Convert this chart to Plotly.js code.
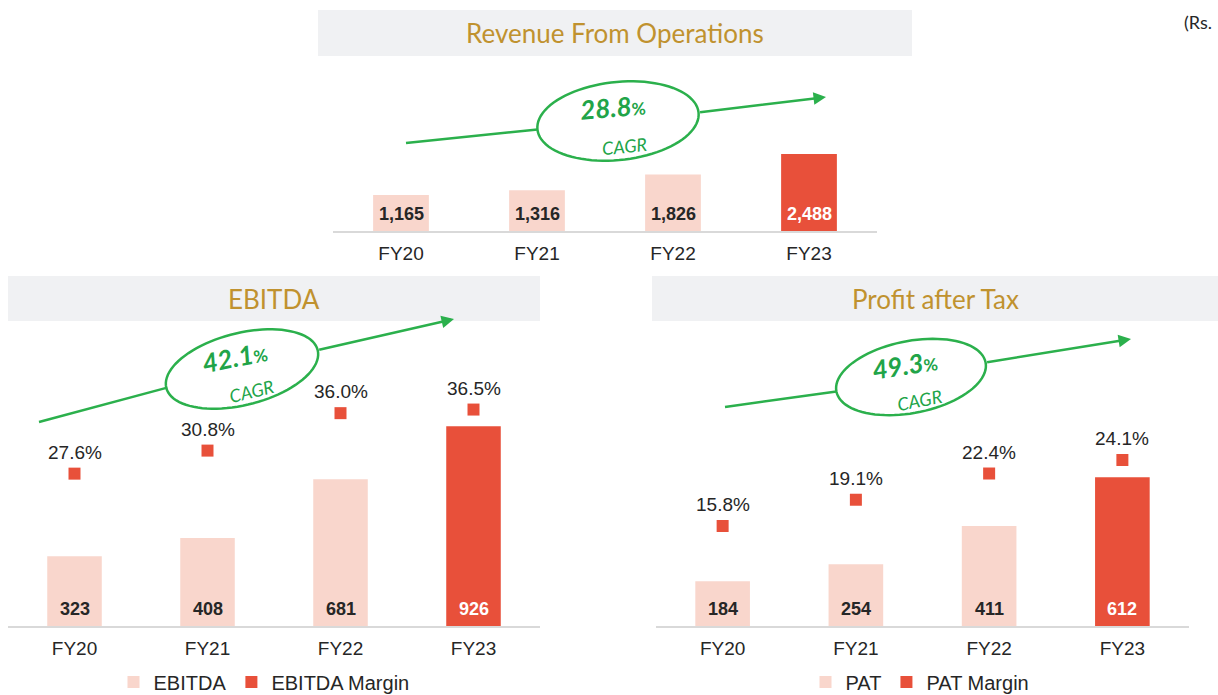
<!DOCTYPE html>
<html>
<head>
<meta charset="utf-8">
<script src="https://cdn.plot.ly/plotly-3.0.1.min.js"></script>
<style>
  html, body { margin: 0; padding: 0; background: #ffffff; }
  #chart { width: 1218px; height: 695px; }
</style>
</head>
<body>
<div id="chart"></div>
<script>
// ---------------- data ----------------
const categories   = ['FY20', 'FY21', 'FY22', 'FY23'];
const revenue      = [1165, 1316, 1826, 2488];
const ebitda       = [323, 408, 681, 926];
const ebitdaMargin = [27.6, 30.8, 36.0, 36.5];
const pat          = [184, 254, 411, 612];
const patMargin    = [15.8, 19.1, 22.4, 24.1];
const cagrRevenue  = '28.8';
const cagrEbitda   = '42.1';
const cagrPat      = '49.3';
const titles       = ['Revenue From Operations', 'EBITDA', 'Profit after Tax'];
const unitNote     = '(Rs.';

// ---------------- styling ----------------
const W = 1218, H = 695;
const X = px => px / W;
const Y = py => 1 - py / H;
const LIGHT = '#f9d6cc';
const RED = '#e8503a';
const GREEN = '#2bb04c';
const GREEN_TXT = '#21a448';
const GOLD = '#c0922f';
const GREYBOX = '#f0f1f3';
const DARK = '#262626';
const ARIAL = 'Liberation Sans, Arial, sans-serif';
const TITLEF = 'Lato, Open Sans, sans-serif';
const barColors = categories.map((c, i) => i === categories.length - 1 ? RED : LIGHT);
const barTextColors = categories.map((c, i) => i === categories.length - 1 ? '#ffffff' : DARK);

const traces = [
  { type: 'bar', x: categories, y: revenue, xaxis: 'x', yaxis: 'y',
    marker: { color: barColors }, showlegend: false, hoverinfo: 'skip' },
  { type: 'bar', x: categories, y: ebitda, xaxis: 'x2', yaxis: 'y2', name: 'EBITDA',
    legend: 'legend', marker: { color: barColors }, hoverinfo: 'skip' },
  { type: 'scatter', mode: 'markers', x: categories, y: ebitdaMargin, xaxis: 'x2', yaxis: 'y4',
    name: 'EBITDA Margin', legend: 'legend',
    marker: { symbol: 'square', size: 12, color: RED }, hoverinfo: 'skip' },
  { type: 'bar', x: categories, y: pat, xaxis: 'x3', yaxis: 'y3', name: 'PAT',
    legend: 'legend2', marker: { color: barColors }, hoverinfo: 'skip' },
  { type: 'scatter', mode: 'markers', x: categories, y: patMargin, xaxis: 'x3', yaxis: 'y5',
    name: 'PAT Margin', legend: 'legend2',
    marker: { symbol: 'square', size: 12, color: RED }, hoverinfo: 'skip' }
];

const xBase = (domain, anchor) => ({
  domain: domain, anchor: anchor, type: 'category', range: [-0.5, 3.5],
  showline: true, linecolor: '#d9d9d9', linewidth: 2, showgrid: false, zeroline: false,
  ticks: '', ticklabelstandoff: 4,
  tickfont: { family: ARIAL, size: 19, color: DARK }, fixedrange: true
});
const yHidden = (domain, anchor, range) => ({
  domain: domain, anchor: anchor, range: range, visible: false, fixedrange: true
});

const topDomY = [Y(231), Y(60)];
const botDomY = [Y(626), Y(330)];

const layout = {
  width: W, height: H,
  margin: { l: 0, r: 0, t: 0, b: 0, autoexpand: false },
  paper_bgcolor: '#ffffff', plot_bgcolor: 'rgba(0,0,0,0)',
  bargap: 0.59,
  font: { family: ARIAL, color: DARK },
  xaxis:  xBase([X(333), X(877)], 'y'),
  yaxis:  yHidden(topDomY, 'x', [0, 5525]),
  xaxis2: xBase([X(8), X(540)], 'y2'),
  yaxis2: yHidden(botDomY, 'x2', [0, 1373]),
  xaxis3: xBase([X(656), X(1189)], 'y3'),
  yaxis3: yHidden(botDomY, 'x3', [0, 1218]),
  yaxis4: { overlaying: 'y2', anchor: 'x2', range: [6.44, 47.55], visible: false, fixedrange: true },
  yaxis5: { overlaying: 'y3', anchor: 'x3', range: [3.22, 40.45], visible: false, fixedrange: true },
  legend: { orientation: 'h', x: X(264), xanchor: 'center', y: Y(682), yanchor: 'middle',
            font: { family: ARIAL, size: 20, color: DARK }, bgcolor: 'rgba(0,0,0,0)',
            traceorder: 'normal', itemclick: false },
  legend2: { orientation: 'h', x: X(920), xanchor: 'center', y: Y(682), yanchor: 'middle',
             font: { family: ARIAL, size: 20, color: DARK }, bgcolor: 'rgba(0,0,0,0)',
             traceorder: 'normal', itemclick: false },
  shapes: [],
  annotations: []
};

// title boxes
const boxes = [
  { x0: 318, x1: 912, y0: 10, y1: 56, title: titles[0] },
  { x0: 8, x1: 540, y0: 276, y1: 321, title: titles[1] },
  { x0: 652, x1: 1218, y0: 276, y1: 321, title: titles[2] }
];
boxes.forEach(b => {
  layout.shapes.push({ type: 'rect', xref: 'paper', yref: 'paper', layer: 'below',
    x0: X(b.x0), x1: X(b.x1), y0: Y(b.y1), y1: Y(b.y0),
    fillcolor: GREYBOX, line: { width: 0 } });
  layout.annotations.push({ xref: 'paper', yref: 'paper', x: X((b.x0 + b.x1) / 2),
    y: Y((b.y0 + b.y1) / 2), xanchor: 'center', yanchor: 'middle', showarrow: false,
    text: b.title, font: { family: TITLEF, size: 26, color: GOLD } });
});

// unit note
layout.annotations.push({ xref: 'paper', yref: 'paper', x: X(1214), y: Y(22), xanchor: 'right',
  yanchor: 'middle', showarrow: false, text: unitNote,
  font: { family: TITLEF, size: 18, color: DARK } });

// bar value labels
function barLabels(values, xr, yr, fmt) {
  values.forEach((v, i) => {
    layout.annotations.push({ xref: xr, yref: yr, x: categories[i], y: 0,
      xanchor: 'center', yanchor: 'bottom', yshift: 5, showarrow: false,
      text: '<b>' + fmt(v) + '</b>', font: { family: ARIAL, size: 18, color: barTextColors[i] } });
  });
}
barLabels(revenue, 'x', 'y', v => v.toLocaleString('en-US'));
barLabels(ebitda, 'x2', 'y2', v => String(v));
barLabels(pat, 'x3', 'y3', v => String(v));

// margin labels
function marginLabels(values, xr, yr) {
  values.forEach((v, i) => {
    layout.annotations.push({ xref: xr, yref: yr, x: categories[i], y: v,
      xanchor: 'center', yanchor: 'bottom', yshift: 9, showarrow: false,
      text: v.toFixed(1) + '%', font: { family: ARIAL, size: 19, color: DARK } });
  });
}
marginLabels(ebitdaMargin, 'x2', 'y4');
marginLabels(patMargin, 'x3', 'y5');

// CAGR badges: line -> ellipse -> arrow
function cagrBadge(o) {
  const phi = o.rot * Math.PI / 180;
  const pt = (u, v) => [o.cx + u * Math.cos(phi) - v * Math.sin(phi),
                        o.cy + u * Math.sin(phi) + v * Math.cos(phi)];
  let path = '';
  const N = 90;
  for (let k = 0; k <= N; k++) {
    const t = 2 * Math.PI * k / N;
    const p = pt(o.rx * Math.cos(t), o.ry * Math.sin(t));
    path += (k === 0 ? 'M' : 'L') + X(p[0]).toFixed(5) + ',' + Y(p[1]).toFixed(5) + ' ';
  }
  path += 'Z';
  layout.shapes.push({ type: 'path', xref: 'paper', yref: 'paper', path: path,
    line: { color: GREEN, width: 2.5 }, fillcolor: 'rgba(0,0,0,0)' });
  const left = pt(-o.rx, 0), right = pt(o.rx, 0);
  layout.shapes.push({ type: 'line', xref: 'paper', yref: 'paper',
    x0: X(o.start[0]), y0: Y(o.start[1]), x1: X(left[0]), y1: Y(left[1]),
    line: { color: GREEN, width: 2.5 } });
  layout.annotations.push({ xref: 'paper', yref: 'paper', x: X(o.tip[0]), y: Y(o.tip[1]),
    ax: right[0] - o.tip[0], ay: right[1] - o.tip[1], axref: 'pixel', ayref: 'pixel',
    showarrow: true, arrowhead: 2, arrowsize: 1, arrowwidth: 2.5, arrowcolor: GREEN,
    text: '', standoff: 0 });
  const n = pt(-4, -o.ry * 0.36), c = pt(4, o.ry * 0.66);
  layout.annotations.push({ xref: 'paper', yref: 'paper', x: X(n[0]), y: Y(n[1]),
    xanchor: 'center', yanchor: 'middle', showarrow: false, textangle: o.rot * 0.8,
    text: '<b><i>' + o.value + '</i></b><span style="font-size:17px;font-weight:bold">%</span>',
    font: { family: TITLEF, size: 26, color: GREEN_TXT } });
  layout.annotations.push({ xref: 'paper', yref: 'paper', x: X(c[0]), y: Y(c[1]),
    xanchor: 'center', yanchor: 'middle', showarrow: false, textangle: o.rot,
    text: '<i>CAGR</i>', font: { family: TITLEF, size: 18, color: GREEN_TXT } });
}
cagrBadge({ value: cagrRevenue, cx: 618, cy: 121, rx: 81, ry: 39, rot: -6,
            start: [406, 143], tip: [826, 97] });
cagrBadge({ value: cagrEbitda, cx: 242, cy: 369, rx: 78, ry: 36, rot: -14,
            start: [39, 422], tip: [454, 319] });
cagrBadge({ value: cagrPat, cx: 911, cy: 377, rx: 76, ry: 36, rot: -11,
            start: [725, 407], tip: [1131, 339] });

Plotly.newPlot('chart', traces, layout, { displayModeBar: false, staticPlot: true });
</script>
</body>
</html>
